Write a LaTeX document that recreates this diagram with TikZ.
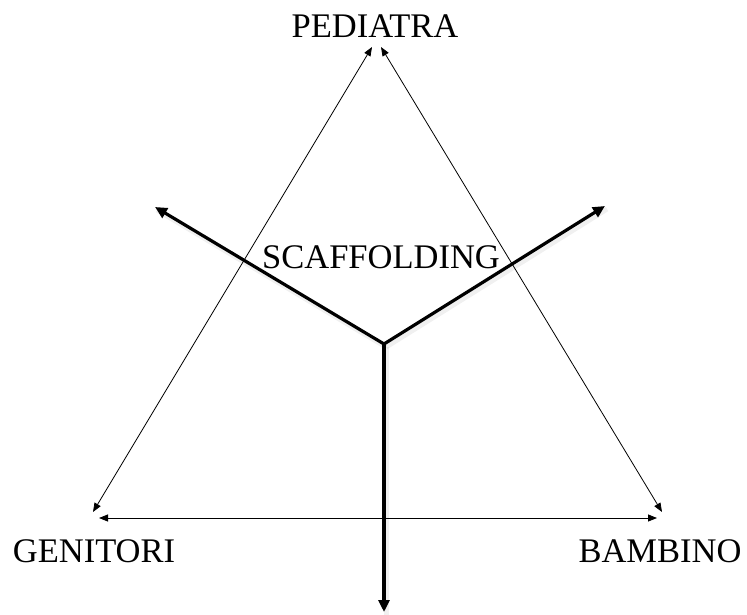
\documentclass[tikz,border=0pt]{standalone}
\usepackage{fontspec}
\setmainfont{Liberation Serif}
\usetikzlibrary{arrows.meta}
\begin{document}
\begin{tikzpicture}[x=1pt,y=-1pt,
  lbl/.style={inner sep=0pt, anchor=base, font=\fontsize{34.5}{40}\selectfont},
  thinarrow/.style={line width=0.8pt, {Triangle[length=9pt,width=7pt]}-{Triangle[length=9pt,width=7pt]}},
  thickarrow/.style={line width=3.2pt, -{Triangle[length=12pt,width=11pt]}},
  lineshadow/.style={line width=5pt, black, opacity=0.06}
]
\useasboundingbox (0,0) rectangle (747,615);
% labels
\node[lbl] (ped) at (375,38) {PEDIATRA};
\node[lbl] (gen) at (94,562) {GENITORI};
\node[lbl] (bam) at (660,562) {BAMBINO};
\node[lbl] (sca) at (381,268) {SCAFFOLDING};
% triangle end points
\coordinate (pl) at (372,47);
\coordinate (pr) at (381,47);
\coordinate (gl) at (93,512);
\coordinate (gb) at (99,518);
\coordinate (br) at (662,512);
\coordinate (bb) at (657,518);
% Y
\coordinate (c) at (384,344);
\coordinate (yl) at (155,207);
\coordinate (yr) at (605,206);
\coordinate (yd) at (384,612);
% line shadows
\foreach \a/\b in {c/yl,c/yr,c/yd}{
  \draw[lineshadow] ([shift={(2,3)}]\a) -- ([shift={(2,3)}]\b);
}
\draw[thinarrow] (pl) -- (gl);
\draw[thinarrow] (pr) -- (br);
\draw[thinarrow] (gb) -- (bb);
\draw[thickarrow] (c) -- (yl);
\draw[thickarrow] (c) -- (yr);
\draw[thickarrow] (c) -- (yd);
\end{tikzpicture}
\end{document}
